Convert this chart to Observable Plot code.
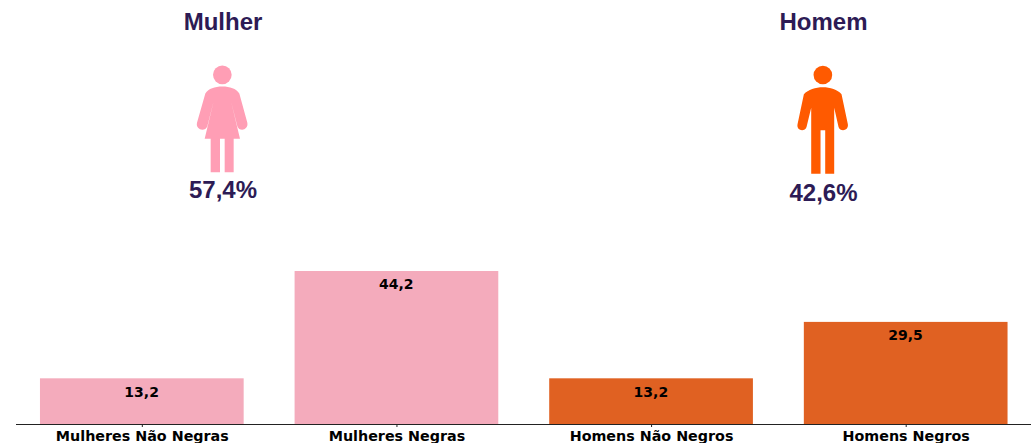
<!DOCTYPE html>
<html><head><meta charset="utf-8">
<script src="https://cdn.jsdelivr.net/npm/d3@7"></script>
<script src="https://cdn.jsdelivr.net/npm/@observablehq/plot@0.6"></script>
<style>html,body{margin:0;padding:0;background:#fff;overflow:hidden}svg{display:block}</style>
</head><body><div id="chart"></div>
<script>
const categories = ["Mulheres Não Negras","Mulheres Negras","Homens Não Negros","Homens Negros"];
const values = [13.2,44.2,13.2,29.5];
const barColors = ["#F4ABBC","#F4ABBC","#E06122","#E06122"];
const headings = ["Mulher","Homem"];
const shares = ["57,4%","42,6%"];
const rows = categories.map((c,i)=>({c,v:values[i],col:barColors[i]}));
const navy = "#2D1B55";
const womanIcon = `<svg xmlns="http://www.w3.org/2000/svg" viewBox="130 190 170 330"><g fill="#FF9EB5"><circle cx="217" cy="224" r="28"/><path d="M217 259C240 259 258 265 268 280L292 368C296 390 268 396 262 378L243 303L270 416H251V516H224V416H210V516H182V416H164L191 303L172 378C166 396 136 390 141 368L166 280C176 265 194 259 217 259Z"/></g></svg>`;
const manIcon = `<svg xmlns="http://www.w3.org/2000/svg" viewBox="130 190 170 335"><g fill="#FF5A00"><circle cx="218" cy="224" r="28"/><path d="M218 261C240 261 262 268 274 282L293 372C296 392 270 396 265 380L252 322V520H225V390H211V520H183V322L169 380C164 396 138 392 142 372L161 282C174 268 196 261 218 261Z"/></g></svg>`;
const uri = s => "data:image/svg+xml," + encodeURIComponent(s);
const titleFont = {fontFamily:"'Liberation Sans',Arial,sans-serif",fontWeight:"bold",fontSize:24,fill:navy,stroke:"none",frameAnchor:"top-left",textAnchor:"middle",lineAnchor:"middle"};
const chart = Plot.plot({
  width:1031,height:443,marginLeft:0,marginRight:0,marginTop:0,marginBottom:19,
  style:{background:"#fff"},
  x:{type:"band",domain:categories,range:[14.5,1033],round:false,paddingInner:0.2,paddingOuter:0.1,align:0.5,label:null},
  y:{domain:[0,122.5],range:[424,0],axis:null},
  marks:[
    Plot.barY(rows,{x:"c",y:"v",fill:d=>d.col}),
    Plot.text(rows,{x:"c",y:"v",text:d=>String(d.v).replace(".",","),dx:-0.7,dy:13.5,fill:"#000",fontFamily:"'DejaVu Sans',sans-serif",fontWeight:"bold",fontSize:14,lineAnchor:"middle"}),
    Plot.ruleY([0],{stroke:"#222",strokeWidth:1.2,insetLeft:16}),
    Plot.axisX({tickSize:3,tickPadding:3,anchor:"bottom",label:null,stroke:"#222",fontFamily:"'DejaVu Sans',sans-serif",fontWeight:"bold",fontSize:14.3,fill:"#000"}),
    Plot.text([headings[0]],{...titleFont,dx:222.5,dy:22}),
    Plot.text([headings[1]],{...titleFont,dx:823,dy:22}),
    Plot.text([shares[0]],{...titleFont,dx:222.5,dy:190}),
    Plot.text([shares[1]],{...titleFont,dx:823,dy:193}),
    Plot.image([0],{src:uri(womanIcon),width:170/3,height:110,frameAnchor:"top-left",dx:149.5+215/3,dy:118}),
    Plot.image([0],{src:uri(manIcon),width:170/3,height:335/3,frameAnchor:"top-left",dx:749.7+215/3,dy:119}),
  ]
});
document.getElementById("chart").append(chart);
</script></body></html>
